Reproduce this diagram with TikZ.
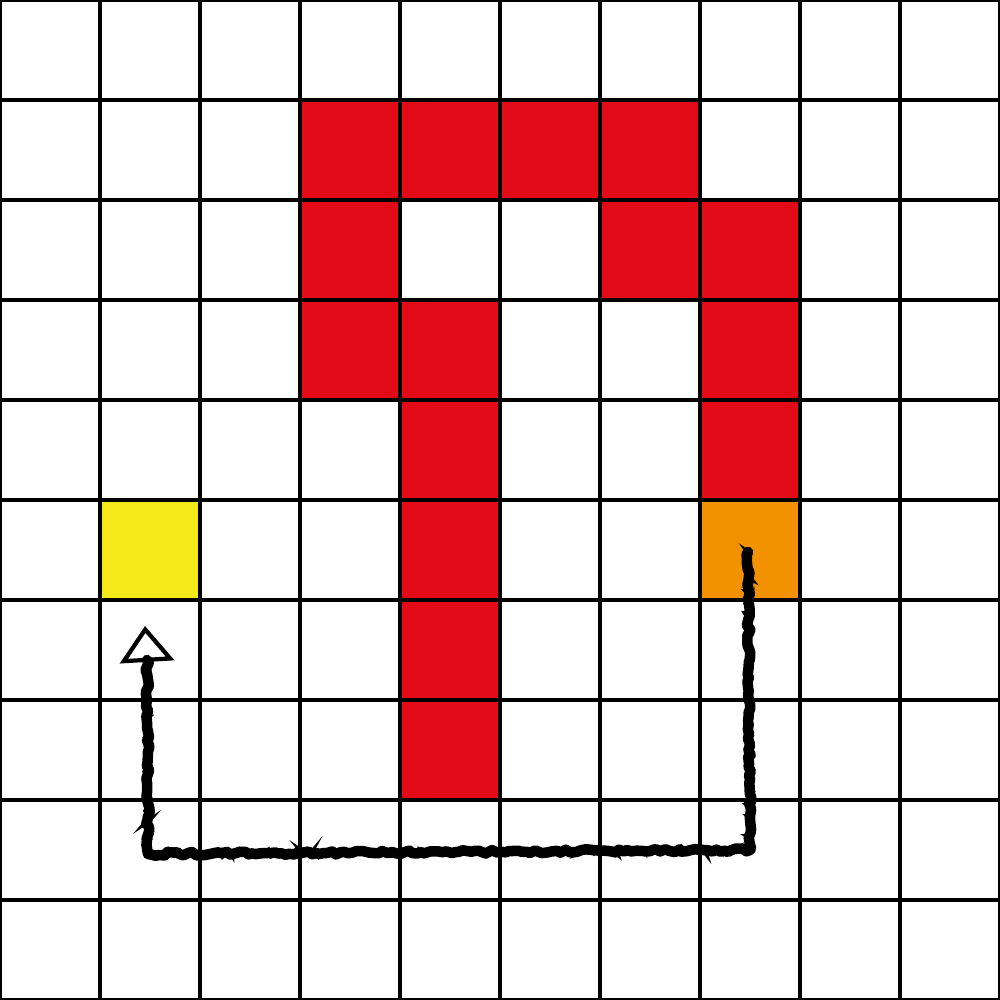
\documentclass[tikz,border=0pt]{standalone}
\usepackage{tikz}
\usetikzlibrary{arrows.meta,decorations.pathmorphing}
\definecolor{cellred}{RGB}{227,11,23}
\definecolor{cellyellow}{RGB}{246,233,26}
\definecolor{cellorange}{RGB}{242,146,0}
\tikzset{
  grid line/.style={draw=black,line width=1pt},
  wall cell/.style={fill=cellred},
  chalk path/.style={line width=3pt,black,line cap=round,line join=round,
    decorate,decoration={random steps,segment length=1.2pt,amplitude=0.5pt}},
  chalk dust/.style={line width=1.2pt,black,dash pattern=on 0.6pt off 1.4pt,
    decorate,decoration={random steps,segment length=0.8pt,amplitude=1pt}},
  chalk tip/.style={-{Triangle[open,length=3.6mm,width=5.4mm,line width=1.2pt]},
    line width=1.2pt,black}
}
\begin{document}
\begin{tikzpicture}
  \useasboundingbox (0,0) rectangle (10,10);

  % filled cells (column, row from the top)
  \foreach \c/\r in {3/1,4/1,5/1,6/1,3/2,6/2,7/2,3/3,4/3,7/3,4/4,7/4,4/5,4/6,4/7}
    \fill[wall cell] (\c,9-\r) rectangle ++(1,1);
  \fill[cellyellow] (1,4) rectangle (2,5);
  \fill[cellorange] (7,4) rectangle (8,5);

  \draw[grid line] (0,0) grid (10,10);

  % route from the orange cell back to the yellow one
  \coordinate (start) at (7.48,4.48);
  \coordinate (corner a) at (7.5,1.5);
  \coordinate (corner b) at (1.48,1.46);
  \coordinate (stem) at (1.47,3.4);
  \coordinate (tip) at (1.45,3.74);

  \draw[chalk path] (start) -- (corner a) -- (corner b) -- (stem);
  \draw[chalk dust] (start) -- (corner a) -- (corner b) -- (stem);
  \draw[chalk tip] (stem) -- (tip);
\end{tikzpicture}
\end{document}
